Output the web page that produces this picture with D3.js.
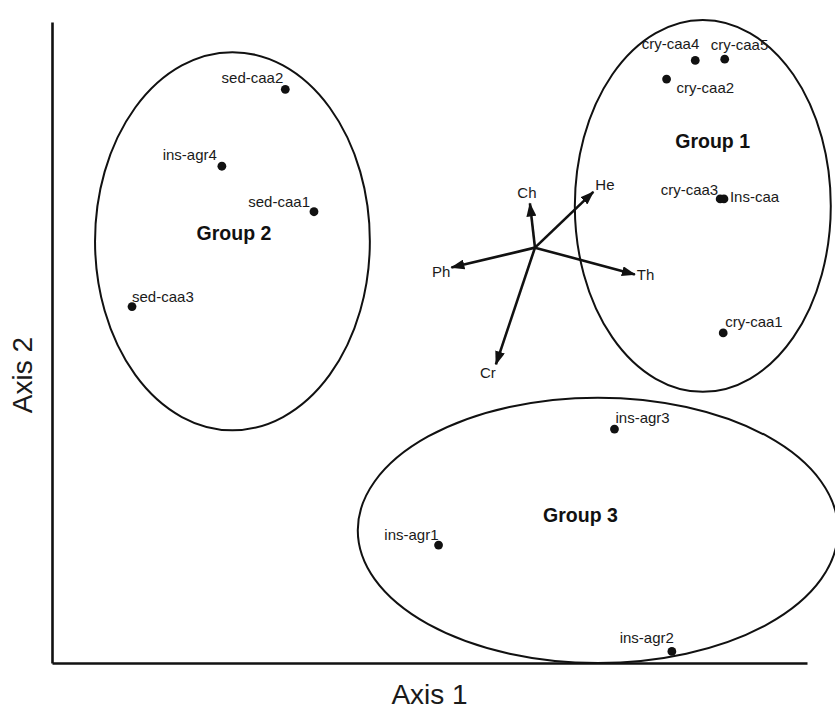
<!DOCTYPE html>
<html>
<head>
<meta charset="utf-8">
<script src="https://cdn.jsdelivr.net/npm/d3@7"></script>
<style>
  html, body { margin: 0; padding: 0; background: #fff; }
  svg { display: block; font-family: "Liberation Sans", Arial, Helvetica, sans-serif; }
</style>
</head>
<body>
<svg id="chart" width="835" height="709"></svg>
<script>
// ---- data (ordination scores, arbitrary units) ----
const sampleNames = ["sed-caa2","ins-agr4","sed-caa1","sed-caa3","cry-caa4","cry-caa5","cry-caa2","cry-caa3","Ins-caa","cry-caa1","ins-agr3","ins-agr1","ins-agr2"];
const sampleX = [30.9, 22.5, 34.7, 10.6, 85.2, 89.1, 81.4, 88.5, 89.0, 88.9, 74.5, 51.2, 82.1];
const sampleY = [89.5, 77.5, 70.4, 55.6, 94.0, 94.2, 91.1, 72.4, 72.4, 51.5, 36.5, 18.4, 1.8];

const groupNames = ["Group 1","Group 2","Group 3"];
const groupCX = [86.2, 23.9, 72.3];
const groupCY = [71.3, 65.8, 20.7];
const groupRX = [16.95, 18.2, 31.8];
const groupRY = [29.0, 29.5, 20.7];
const groupLabelX = [87.5, 24.1, 70.0];
const groupLabelY = [80.3, 66.0, 22.0];

const vectorOrigin = [63.97, 64.8];
const vectorNames = ["Ch","He","Ph","Th","Cr"];
const vectorX = [63.3, 71.7, 52.9, 77.2, 58.8];
const vectorY = [71.7, 73.5, 61.7, 60.6, 46.6];

const axisTitles = ["Axis 1", "Axis 2"];

// ---- label placement (style only) ----
const sampleLabelPlace = [
  ["end",-2,-6],["end",-5,-6],["end",-4,-5],["start",0,-5],
  ["end",4,-11],["start",-14,-9],["start",10,14],["end",-2,-4],
  ["start",6,3],["start",2,-6],["start",1,-6],["end",0,-5],["end",2,-8]
];
const vectorLabelPlace = [["middle",-3,-5],["start",2,-2],["end",-1,9],["start",2,5],["middle",-8,14]];

// ---- layout ----
const svg = d3.select("#chart");
const x = d3.scaleLinear().domain([0,100]).range([52, 807]);
const y = d3.scaleLinear().domain([0,100]).range([663, 22]);
const ink = "#111";

// axes (lines only, no ticks)
const xAxis = d3.axisBottom(x).tickValues([]).tickSizeOuter(0);
const yAxis = d3.axisLeft(y).tickValues([]).tickSizeOuter(0);
const gx = svg.append("g").attr("transform", `translate(0,${y(0)})`).call(xAxis);
const gy = svg.append("g").attr("transform", `translate(${x(0)},0)`).call(yAxis);
[gx, gy].forEach(g => g.select(".domain").attr("stroke", ink).attr("stroke-width", 2.6));

svg.append("text").attr("x", (x(0)+x(100))/2 + 0).attr("y", 704)
  .attr("text-anchor","middle").attr("font-size", 28).attr("fill", "#1a1a1a").text(axisTitles[0]);
svg.append("text").attr("transform", `translate(32,375) rotate(-90)`)
  .attr("text-anchor","middle").attr("font-size", 28).attr("fill", "#1a1a1a").text(axisTitles[1]);

// group ellipses
const sx = (x(100)-x(0))/100, sy = (y(0)-y(100))/100;
svg.append("g").selectAll("ellipse").data(groupNames).join("ellipse")
  .attr("cx", (d,i) => x(groupCX[i])).attr("cy", (d,i) => y(groupCY[i]))
  .attr("rx", (d,i) => groupRX[i]*sx).attr("ry", (d,i) => groupRY[i]*sy)
  .attr("fill","none").attr("stroke", ink).attr("stroke-width", 2);

svg.append("g").selectAll("text").data(groupNames).join("text")
  .attr("x", (d,i) => x(groupLabelX[i])).attr("y", (d,i) => y(groupLabelY[i]))
  .attr("text-anchor","middle").attr("font-size", 19.5).attr("font-weight","bold")
  .attr("fill", ink).text(d => d);

// vectors
const defs = svg.append("defs");
defs.append("marker").attr("id","arrow").attr("viewBox","0 0 14 10")
  .attr("refX", 13).attr("refY", 5).attr("markerWidth", 14).attr("markerHeight", 10)
  .attr("markerUnits","userSpaceOnUse").attr("orient","auto")
  .append("path").attr("d","M0,0 L14,5 L0,10 Z").attr("fill", ink);

const vg = svg.append("g");
vg.selectAll("line").data(vectorNames).join("line")
  .attr("x1", x(vectorOrigin[0])).attr("y1", y(vectorOrigin[1]))
  .attr("x2", (d,i) => x(vectorX[i])).attr("y2", (d,i) => y(vectorY[i]))
  .attr("stroke", ink).attr("stroke-width", 2.6).attr("marker-end","url(#arrow)");
vg.selectAll("text").data(vectorNames).join("text")
  .attr("x", (d,i) => x(vectorX[i]) + vectorLabelPlace[i][1])
  .attr("y", (d,i) => y(vectorY[i]) + vectorLabelPlace[i][2])
  .attr("text-anchor", (d,i) => vectorLabelPlace[i][0])
  .attr("font-size", 15).attr("fill", "#1a1a1a").text(d => d);

// samples
const pg = svg.append("g");
pg.selectAll("circle").data(sampleNames).join("circle")
  .attr("cx", (d,i) => x(sampleX[i])).attr("cy", (d,i) => y(sampleY[i]))
  .attr("r", 4.4).attr("fill", ink);
pg.selectAll("text").data(sampleNames).join("text")
  .attr("x", (d,i) => x(sampleX[i]) + sampleLabelPlace[i][1])
  .attr("y", (d,i) => y(sampleY[i]) + sampleLabelPlace[i][2])
  .attr("text-anchor", (d,i) => sampleLabelPlace[i][0])
  .attr("font-size", 15).attr("fill", "#1a1a1a").text(d => d);
</script>
</body>
</html>
